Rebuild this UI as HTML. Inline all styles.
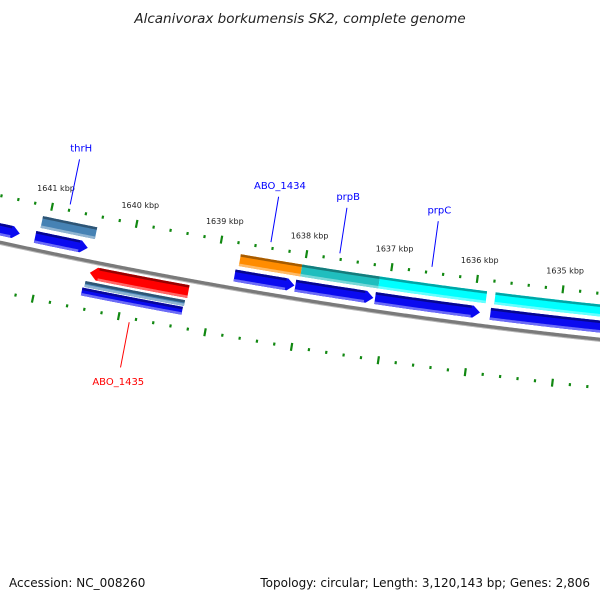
<!DOCTYPE html>
<html><head><meta charset="utf-8"><style>
html,body{margin:0;padding:0;background:#fff}
svg{display:block}
text{font-family:"DejaVu Sans","Liberation Sans",sans-serif}
</style></head><body>
<svg id="chart" width="600" height="600" viewBox="0 0 600 600" xmlns="http://www.w3.org/2000/svg">
<rect width="600" height="600" fill="#fff"/>
<text x="300" y="23" text-anchor="middle" font-size="13.5" font-style="italic" fill="#222">Alcanivorax borkumensis SK2, complete genome</text>
<g id="marks"></g>
<text x="9" y="587" font-size="12" fill="#111">Accession: NC_008260</text>
<text x="590" y="587" text-anchor="end" font-size="12" fill="#111">Topology: circular; Length: 3,120,143 bp; Genes: 2,806</text>
</svg>
<script>
// data (kbp)
const tickMajors = [1634, 1635, 1636, 1637, 1638, 1639, 1640, 1641, 1642];
const tickLabels = ["1634 kbp","1635 kbp","1636 kbp","1637 kbp","1638 kbp","1639 kbp","1640 kbp","1641 kbp","1642 kbp"];
const featStart = [1641.72, 1641.12, 1638.78, 1638.07, 1637.14, 1635.80, 1641.08, 1638.75, 1638.03, 1637.12, 1635.77, 1640.42, 1640.45, 1640.47];
const featEnd   = [1641.30, 1640.50, 1638.08, 1637.16, 1635.92, 1634.12, 1640.44, 1638.03, 1637.12, 1635.87, 1634.12, 1639.27, 1639.29, 1639.30];
const featStrand = [1, 1, 1, 1, 1, 1, 0, 0, 0, 0, 0, -1, 0, 0];
const featTrack = ["cds+","cds+","cds+","cds+","cds+","cds+","cog+","cog+","cog+","cog+","cog+","cds-","cog-","blast-"];
const featColor = ["#0a0af0","#0a0af0","#0a0af0","#0a0af0","#0a0af0","#0a0af0","#4682b4","#ff8c00","#20bebe","#00ffff","#00ffff","#ff0000","#4682b4","#0a0af0"];
const geneNames = ["thrH","ABO_1434","prpB","prpC","ABO_1435"];
const geneBp = [1640.80, 1638.43, 1637.62, 1636.54, 1639.87];
const geneSide = [1, 1, 1, 1, -1];

// geometry / axis functions
const CX = 1177.6, CY = -5137, R = 5507;
const trackD = {"cds+":[13,12],"cog+":[29,12],"cds-":[-11,13],"cog-":[-23,6],"blast-":[-31,8]};
function ang(bp){ return (96.462 + (bp - 1635) * 0.9053) * Math.PI / 180; }
function pt(bp, d){ const t = ang(bp), r = R - d; return [CX + r*Math.cos(t), CY + r*Math.sin(t)]; }
const NS = "http://www.w3.org/2000/svg";
const g = document.getElementById('marks');
function mk(tag, attrs){ const e = document.createElementNS(NS, tag); for (const k in attrs) e.setAttribute(k, attrs[k]); return e; }
function arcPts(b1, b2, d){ const out=[]; const n = Math.max(2, Math.ceil(Math.abs(b1-b2)/0.02)); for(let i=0;i<=n;i++){ const b=b1+(b2-b1)*i/n; out.push(pt(b,d)); } return out; }
function fmt(p){ return p.map(q=>q[0].toFixed(2)+','+q[1].toFixed(2)).join(' '); }
function shade(hex, f){ const n=parseInt(hex.slice(1),16); let r=n>>16,gg=(n>>8)&255,b=n&255;
  if(f<0){ r=r*(1+f); gg=gg*(1+f); b=b*(1+f);} else { r=r+(255-r)*f; gg=gg+(255-gg)*f; b=b+(255-b)*f; }
  return 'rgb('+Math.round(r)+','+Math.round(gg)+','+Math.round(b)+')'; }
const pxPerKbp = 86;

// backbone
const bb = arcPts(1643, 1633.5, 0);
const bbLine = mk('polyline',{points:fmt(bb),fill:'none',stroke:'#7a7a7a','stroke-width':4});


g.appendChild(bbLine);
const bbLight = mk('polyline',{points:fmt(arcPts(1643,1633.5,-1.8)),fill:'none',stroke:'#b8b8b8','stroke-width':1});


g.appendChild(bbLight);

// ticks
[[46,'upper'],[-48,'lower']].forEach(([d,side])=>{
  for (let k=0;k<tickMajors.length-1;k++){
    for (let m=0;m<5;m++){
      const bp = tickMajors[k] + m*0.2;
      const major = m===0;
      const len = major?8:3;
      const p1 = pt(bp, d - len/2), p2 = pt(bp, d + len/2);
      const ln = mk('line',{x1:p1[0],y1:p1[1],x2:p2[0],y2:p2[1],stroke:'#118811','stroke-width':2.2});
      
      
      g.appendChild(ln);
    }
  }
});
tickMajors.forEach((bp,i)=>{
  const p = pt(bp, 65);
  const t = mk('text',{x:p[0],y:p[1]+3,'text-anchor':'middle','font-size':8,fill:'#222'});
  t.textContent = tickLabels[i];
  
  
  g.appendChild(t);
});

// features
featStart.forEach((s,i)=>{
  const [d, th] = trackD[featTrack[i]];
  const e = featEnd[i], dir = featStrand[i];
  const top = d + th/2, bot = d - th/2;
  const headBp = 7 / pxPerKbp;
  function band(t1, t2, color, name){
    let pts;
    if (dir === 1){
      const he = e + headBp;
      pts = arcPts(s, he, t1).concat([pt(e, (top+bot)/2)]).concat(arcPts(he, s, t2));
    } else if (dir === -1){
      const hs = s - headBp;
      pts = [pt(s,(top+bot)/2)].concat(arcPts(hs, e, t1)).concat(arcPts(e, hs, t2));
    } else {
      pts = arcPts(s, e, t1).concat(arcPts(e, s, t2));
    }
    const poly = mk('polygon',{points:fmt(pts),fill:color});
    
    
    g.appendChild(poly);
  }
  band(top, bot, featColor[i], 'feature-' + featTrack[i] + '-' + i);
  if (dir === 0){
    band(top, top - 2.5, shade(featColor[i], -0.35), 'feature-shade-top-' + i);
    band(bot + 2.5, bot, shade(featColor[i], 0.4), 'feature-shade-bottom-' + i);
  }
});
featStart.forEach((s,i)=>{
  if (featStrand[i] === 0) return;
  const [d, th] = trackD[featTrack[i]];
  const e = featEnd[i], top = d + th/2, bot = d - th/2;
  const headBp = 7 / pxPerKbp;
  const a1 = featStrand[i]===1 ? s : s - headBp - 0.02;
  const a2 = featStrand[i]===1 ? e + headBp + 0.02 : e;
  const dk = mk('polygon',{points:fmt(arcPts(a1,a2,top).concat(arcPts(a2,a1,top-2.5))),fill:shade(featColor[i],-0.4)});
  
  
  g.appendChild(dk);
  const lt = mk('polygon',{points:fmt(arcPts(a1,a2,bot+2.5).concat(arcPts(a2,a1,bot))),fill:shade(featColor[i],0.4)});
  
  
  g.appendChild(lt);
});

// gene labels
geneNames.forEach((nm,i)=>{
  const side = geneSide[i], bp = geneBp[i];
  const col = side===1 ? '#0000ff' : '#ff0000';
  const p1 = pt(bp, side*52), p2 = pt(bp, side*98);
  const ln = mk('line',{x1:p1[0],y1:p1[1],x2:p2[0],y2:p2[1],stroke:col,'stroke-width':1});
  
  
  g.appendChild(ln);
  const p3 = pt(bp, side*(side===1?106:110));
  const t = mk('text',{x:p3[0],y:p3[1]+ (side===1?0:6),'text-anchor':'middle','font-size':10,fill:col});
  t.textContent = nm;
  
  
  g.appendChild(t);
});
</script>
</body></html>
